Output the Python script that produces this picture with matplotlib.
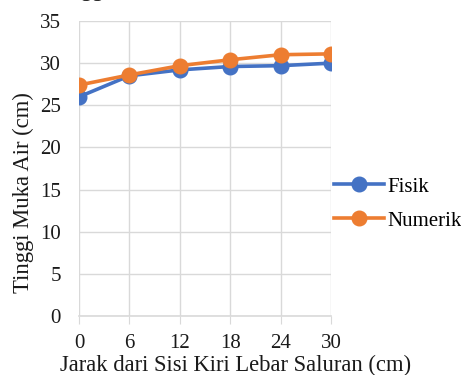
import matplotlib
matplotlib.use("Agg")
import matplotlib.pyplot as plt

# data
jarak = [0, 6, 12, 18, 24, 30]
fisik = [26.0, 28.5, 29.2, 29.6, 29.7, 30.0]
numerik = [27.4, 28.6, 29.7, 30.4, 31.0, 31.1]
y_ticks = [0, 5, 10, 15, 20, 25, 30, 35]

plt.rcParams['font.family'] = ['Liberation Serif', 'DejaVu Serif']
fs = 15
fs_lab = 16.3

W, H = 461, 375
fig = plt.figure(figsize=(W / 100, H / 100), dpi=100)
# plot area in pixels: x 79..331, y 21..316
ax = fig.add_axes([79 / W, 1 - 316 / H, (331 - 79) / W, (316 - 21) / H])

grid_c = '#D9D9D9'
ax.plot(jarak, fisik, color='#4472C4', lw=2.6, marker='o', ms=10.5, label='Fisik', zorder=3)
ax.plot(jarak, numerik, color='#ED7D31', lw=2.6, marker='o', ms=10.5, label='Numerik', zorder=4)

ax.set_xlim(0, 30)
ax.set_ylim(0, 35)
ax.set_xticks(jarak)
ax.set_yticks(y_ticks)
ax.grid(True, color=grid_c, lw=1.0)
ax.set_axisbelow(True)
for s in ['top', 'right', 'left']:
    ax.spines[s].set_visible(False)
ax.spines['bottom'].set_color(grid_c)
ax.spines['bottom'].set_linewidth(1.2)
ax.tick_params(axis='x', length=6, color=grid_c, labelsize=fs, pad=7)
ax.tick_params(axis='y', length=0, labelsize=fs, pad=13)
for lab in ax.get_xticklabels() + ax.get_yticklabels():
    lab.set_color('#1a1a1a')

ax.legend(loc='center left', bbox_to_anchor=(1.0, 0.38), frameon=False,
          fontsize=fs, handlelength=2.4, handletextpad=0.15, labelspacing=0.7,
          borderpad=0.0, borderaxespad=0.15)

fig.text(236 / W, 1 - 365 / H, 'Jarak dari Sisi Kiri Lebar Saluran (cm)',
         ha='center', va='center', fontsize=fs_lab, color='#1a1a1a')
fig.text(23 / W, 1 - 193 / H, 'Tinggi Muka Air (cm)', rotation=90,
         ha='center', va='center', fontsize=fs_lab, color='#1a1a1a')
# title cut off by the top edge, only descenders show
fig.text(51 / W, 1 + 4 / H, 'Tinggi', ha='left', va='baseline',
         fontsize=fs_lab, color='#1a1a1a')

fig.savefig('out.png', dpi=100)
